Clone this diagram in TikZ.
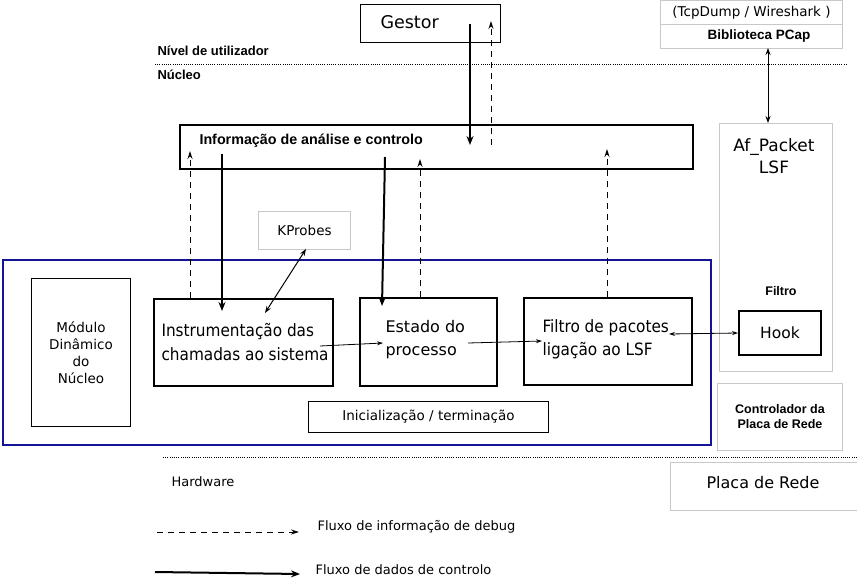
\documentclass[tikz,border=0pt]{standalone}
\usepackage{fontspec}
\setmainfont{DejaVu Sans}
\newfontfamily\cond{DejaVu Sans Condensed}
\newfontfamily\hv{Liberation Sans}
\usetikzlibrary{arrows.meta}
\definecolor{lightbox}{RGB}{200,200,200}
\definecolor{navy}{RGB}{20,20,150}
\tikzset{
  thickbox/.style={draw=black, line width=2pt, rectangle},
  thinbox/.style={draw=black, line width=1pt, rectangle},
  greybox/.style={draw=lightbox, line width=1pt, rectangle},
  bigarrow/.style={line width=2pt, -{Stealth[length=9pt,width=7pt]}},
  dasharrow/.style={line width=1pt, dash pattern=on 6pt off 5pt, -{Stealth[length=8pt,width=5pt]}},
  smallarrow/.style={line width=0.8pt, -{Stealth[length=6pt,width=4pt]}},
  smalldbl/.style={line width=1pt, {Stealth[length=7pt,width=5pt]}-{Stealth[length=7pt,width=5pt]}},
  dotline/.style={line width=0.8pt, dash pattern=on 1pt off 1.2pt},
  bold/.style={font=\hv\bfseries\fontsize{12.5}{15}\selectfont},
  lbl/.style={font=\fontsize{13.5}{16}\selectfont},
}
\begin{document}
\begin{tikzpicture}[x=1pt,y=-1pt]
\useasboundingbox (0,0) rectangle (857,578);

% boxes
\node[thinbox, minimum width=140pt, minimum height=38pt, anchor=north west] (gestor) at (360,4) {};
\node[anchor=west, font=\fontsize{17.5}{20}\selectfont] (gestort) at (377,22) {Gestor};

\node[greybox, minimum width=182pt, minimum height=24pt, anchor=north west, lbl] (tcp) at (660,0) {(TcpDump / Wireshark )};
\node[greybox, minimum width=182pt, minimum height=24pt, anchor=north west] (pcap) at (660,24) {};
\node[font=\hv\bfseries\fontsize{13.5}{16}\selectfont] (pcapt) at (759,36) {Biblioteca PCap};

\coordinate (dl1a) at (155,64);
\coordinate (dl1b) at (848,64);
\draw[dotline] (dl1a) -- (dl1b);
\node[bold, font=\hv\bfseries\fontsize{13}{15}\selectfont, anchor=west] (nivel) at (154,51) {Nível de utilizador};
\node[bold, font=\hv\bfseries\fontsize{13}{15}\selectfont, anchor=west] (nucleo) at (154,75) {Núcleo};

\node[greybox, minimum width=113pt, minimum height=248pt, anchor=north west] (af) at (719,123) {};
\node[align=center, font=\fontsize{17}{22}\selectfont] (aft) at (774,156) {Af\_Packet\\LSF};
\node[bold] (filtro) at (781,291) {Filtro};
\node[thickbox, minimum width=82pt, minimum height=44pt, anchor=north west, font=\fontsize{15.5}{18}\selectfont] (hook) at (738,310) {Hook};

\node[greybox, minimum width=125pt, minimum height=67pt, anchor=north west, bold, align=center] (ctrl) at (717,383) {Controlador da\\Placa de Rede};
\node[greybox, minimum width=190pt, minimum height=48pt, anchor=north west] (placa) at (670,462) {};
\node[font=\fontsize{16}{19}\selectfont] (placat) at (763,483) {Placa de Rede};

\coordinate (dl2a) at (163,457);
\coordinate (dl2b) at (857,457);
\draw[dotline] (dl2a) -- (dl2b);
\node[anchor=west, font=\fontsize{13}{16}\selectfont] (hw) at (168,482) {Hardware};

\node[thickbox, minimum width=513pt, minimum height=44pt, anchor=north west] (info) at (179,124) {};
\node[font=\hv\bfseries\fontsize{14.3}{17}\selectfont, anchor=west] (infot) at (196,141) {Informação de análise e controlo};

\node[draw=navy, line width=2pt, minimum width=708pt, minimum height=185pt, anchor=north west] (kernel) at (2,259) {};

\node[thinbox, minimum width=99pt, minimum height=148pt, anchor=north west, align=center, font=\fontsize{13.5}{17}\selectfont] (mod) at (31,278) {Módulo\\Dinâmico\\do\\Núcleo};

\node[thickbox, minimum width=179pt, minimum height=87pt, anchor=north west] (instr) at (153,298) {};
\node[align=left, anchor=west, font=\cond\fontsize{17}{24}\selectfont] (instrt) at (158,342) {Instrumentação das\\chamadas ao sistema};

\node[thickbox, minimum width=137pt, minimum height=88pt, anchor=north west] (estado) at (359,297) {};
\node[align=left, anchor=west, font=\fontsize{16}{23}\selectfont] (estadot) at (382,340) {Estado do\\processo};

\node[thickbox, minimum width=168pt, minimum height=87pt, anchor=north west] (filt) at (523,297) {};
\node[align=left, anchor=west, font=\cond\fontsize{17}{23}\selectfont] (filtt) at (539,339) {Filtro de pacotes\\ligação ao LSF};

\node[thinbox, minimum width=240pt, minimum height=31pt, anchor=north west, lbl] (init) at (308,401) {Inicialização / terminação};

\node[greybox, minimum width=92pt, minimum height=38pt, anchor=north west, lbl] (kp) at (258,211) {KProbes};

% arrows
\coordinate (g1) at (470,24);
\coordinate (g2) at (470,145);
\draw[bigarrow] (g1) -- (g2);
\coordinate (g3) at (491,145);
\coordinate (g4) at (491,21);
\draw[dasharrow] (g3) -- (g4);

\coordinate (p1) at (768,48);
\coordinate (p2) at (768,123);
\draw[smalldbl] (p1) -- (p2);

\coordinate (a1) at (190,298);
\coordinate (a2) at (190,151);
\draw[dasharrow] (a1) -- (a2);
\coordinate (b1) at (222,154);
\coordinate (b2) at (222,311);
\draw[bigarrow] (b1) -- (b2);
\coordinate (k1) at (306,249);
\coordinate (k2) at (265,313);
\draw[smalldbl] (k1) -- (k2);
\coordinate (c1) at (385,157);
\coordinate (c2) at (382,306);
\draw[bigarrow] (c1) -- (c2);
\coordinate (d1) at (420,297);
\coordinate (d2) at (420,159);
\draw[dasharrow] (d1) -- (d2);
\coordinate (e1) at (607,297);
\coordinate (e2) at (607,149);
\draw[dasharrow] (e1) -- (e2);

\coordinate (s1) at (320,346);
\coordinate (s2) at (383,343);
\draw[smallarrow] (s1) -- (s2);
\coordinate (s3) at (468,343);
\coordinate (s4) at (542,341);
\draw[smallarrow] (s3) -- (s4);
\coordinate (h1) at (669,334);
\coordinate (h2) at (738,333);
\draw[{Stealth[length=6pt,width=4pt]}-{Stealth[length=6pt,width=4pt]}, line width=0.8pt] (h1) -- (h2);

% legend
\coordinate (l1) at (157,532);
\coordinate (l2) at (299,532);
\draw[dasharrow] (l1) -- (l2);
\node[anchor=west, font=\fontsize{13}{16}\selectfont] (lt1) at (314,527) {Fluxo de informação de debug};
\coordinate (l3) at (155,572);
\coordinate (l4) at (300,574);
\draw[bigarrow] (l3) -- (l4);
\node[anchor=west, font=\fontsize{13}{16}\selectfont] (lt2) at (312,570) {Fluxo de dados de controlo};
\end{tikzpicture}
\end{document}
